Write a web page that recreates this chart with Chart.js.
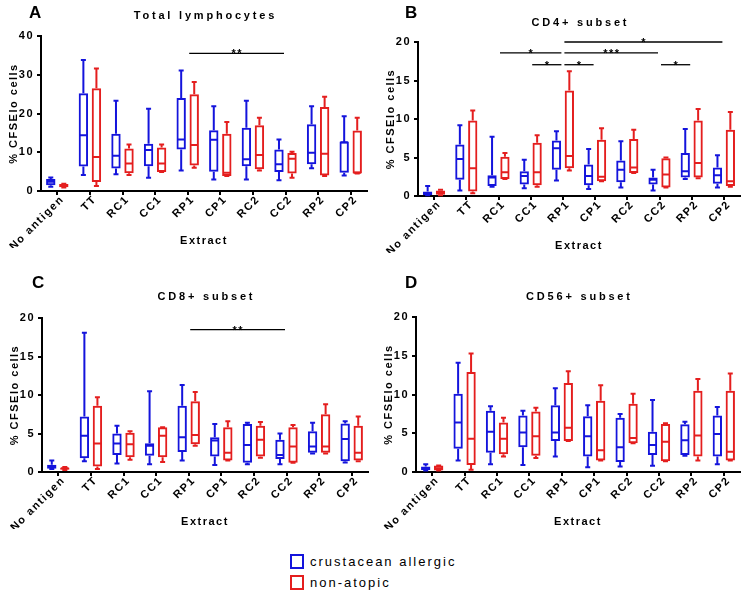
<!DOCTYPE html>
<html>
<head>
<meta charset="utf-8">
<script src="https://cdn.jsdelivr.net/npm/chart.js@4.4.1/dist/chart.umd.min.js"></script>
<style>
  html, body { margin: 0; padding: 0; background: #fff; }
  #wrap { position: relative; width: 746px; height: 594px; overflow: hidden; }
  #wrap canvas { position: absolute; }
  .legend { position: absolute; left: 290px; font: 13px "Liberation Sans", Arial, sans-serif; letter-spacing: 2px; color: #000; }
  .legend span.sw { display: inline-block; width: 10px; height: 11px; border: 2px solid; vertical-align: middle; margin-right: 6px; position: relative; top: -1px; }
</style>
</head>
<body>
<div id="wrap">
  <canvas id="cA" width="373" height="270" style="left:0;top:0"></canvas>
  <canvas id="cB" width="373" height="270" style="left:373px;top:0"></canvas>
  <canvas id="cC" width="373" height="270" style="left:0;top:270px"></canvas>
  <canvas id="cD" width="373" height="270" style="left:373px;top:270px"></canvas>
  <div class="legend" style="top:554px"><span class="sw" style="border-color:#1414dc"></span>crustacean allergic</div>
  <div class="legend" style="top:575px"><span class="sw" style="border-color:#e41e1e"></span>non-atopic</div>
</div>
<script>
// categories on the x axis
const categories = ['No antigen', 'TT', 'RC1', 'CC1', 'RP1', 'CP1', 'RC2', 'CC2', 'RP2', 'CP2'];
const groupNames = ['crustacean allergic', 'non-atopic'];

// box stats per category: [min, q1, median, q3, max]
const totalAllergic = [
  [1.1, 1.5, 2.4, 3.1, 3.5], [4.1, 6.3, 14.4, 25.2, 33.8], [4.3, 5.8, 9.1, 14.8, 23.3], [3.4, 6.4, 10.6, 12.2, 21.2],
  [5.3, 10.7, 13.3, 24.0, 31.1], [3.0, 5.0, 13.2, 15.7, 21.9], [3.0, 6.4, 8.2, 16.3, 23.3], [2.8, 4.9, 6.9, 10.7, 13.3],
  [5.9, 6.9, 9.9, 17.2, 21.9], [4.0, 4.7, 12.6, 12.8, 19.3]
];
const totalNonAtopic = [
  [0.9, 1.0, 1.4, 1.8, 1.9], [1.3, 2.3, 8.8, 26.5, 31.6], [4.1, 4.6, 7.1, 11.0, 12.0], [4.9, 4.9, 7.1, 11.2, 12.0],
  [6.0, 6.6, 11.9, 25.0, 28.1], [3.9, 3.9, 4.7, 14.8, 17.8], [5.3, 5.6, 9.3, 17.0, 18.9], [3.4, 4.5, 8.3, 9.8, 10.1],
  [3.9, 4.0, 9.6, 21.7, 24.3], [4.5, 4.5, 4.7, 15.6, 18.9]
];
const cd4Allergic = [
  [0.1, 0.1, 0.3, 0.6, 1.3], [0.7, 2.1, 4.8, 6.7, 9.2], [1.2, 1.3, 2.4, 2.7, 7.7], [1.0, 1.5, 2.6, 3.2, 4.7],
  [2.0, 3.4, 6.2, 7.2, 8.4], [0.9, 1.4, 2.6, 4.1, 6.1], [1.1, 1.8, 3.4, 4.6, 7.1], [0.7, 1.5, 2.1, 2.4, 3.4],
  [2.2, 2.4, 3.2, 5.6, 8.7], [1.1, 1.6, 2.7, 3.7, 5.3]
];
const cd4NonAtopic = [
  [0.1, 0.15, 0.5, 0.7, 0.8], [0.35, 0.6, 3.6, 9.8, 11.1], [2.2, 2.2, 3.1, 5.1, 5.6], [1.2, 1.4, 3.1, 6.9, 7.9],
  [3.3, 3.6, 5.2, 13.7, 16.2], [1.9, 1.9, 2.5, 7.3, 8.8], [3.0, 3.0, 3.7, 7.4, 8.6], [1.1, 1.1, 2.8, 4.9, 5.0],
  [2.3, 2.4, 4.3, 9.8, 11.3], [1.2, 1.3, 1.9, 8.6, 10.9]
];
const cd8Allergic = [
  [0.4, 0.43, 0.7, 0.95, 1.5], [1.4, 1.8, 4.7, 7.2, 18.1], [1.1, 2.2, 3.7, 5.0, 6.0], [1.0, 2.1, 3.4, 3.75, 10.5],
  [1.5, 2.6, 4.5, 8.6, 11.3], [0.9, 2.0, 4.1, 4.5, 6.25], [1.0, 1.2, 3.5, 6.25, 6.4], [1.0, 1.7, 2.2, 4.2, 5.0],
  [2.4, 2.5, 3.3, 5.3, 6.4], [1.25, 1.4, 4.3, 6.3, 6.6]
];
const cd8NonAtopic = [
  [0.25, 0.3, 0.5, 0.6, 0.65], [0.4, 0.7, 3.7, 8.6, 9.7], [1.6, 1.9, 3.6, 5.1, 5.3], [1.3, 1.9, 4.7, 5.8, 5.8],
  [3.4, 3.6, 4.8, 9.2, 10.4], [1.5, 1.5, 2.5, 5.8, 6.6], [1.85, 2.0, 4.2, 6.0, 6.5], [1.2, 1.2, 3.3, 5.8, 6.1],
  [2.4, 2.5, 3.3, 7.5, 8.8], [1.4, 1.5, 2.5, 6.0, 7.2]
];
const cd56Allergic = [
  [0.2, 0.25, 0.45, 0.7, 1.0], [1.5, 3.0, 6.4, 10.1, 14.1], [1.0, 2.5, 5.2, 7.9, 8.5], [0.9, 3.2, 5.1, 7.3, 7.9],
  [2.0, 4.0, 5.1, 8.6, 10.8], [0.6, 2.0, 4.6, 7.2, 8.6], [0.7, 1.3, 3.2, 7.0, 7.5], [0.8, 2.2, 3.5, 5.2, 9.3],
  [2.1, 2.2, 4.1, 6.15, 6.5], [1.0, 2.0, 4.9, 7.3, 8.4]
];
const cd56NonAtopic = [
  [0.2, 0.2, 0.5, 0.85, 0.85], [0.3, 0.9, 4.3, 12.9, 15.3], [2.0, 2.3, 4.3, 6.4, 7.0], [1.8, 2.1, 4.6, 7.8, 8.3],
  [4.0, 4.0, 5.7, 11.5, 13.0], [1.5, 1.5, 2.8, 9.2, 11.2], [3.7, 3.7, 4.4, 8.8, 10.1], [1.4, 1.4, 3.9, 6.2, 6.3],
  [1.5, 2.0, 4.7, 10.5, 12.0], [1.5, 1.5, 2.6, 10.5, 12.7]
];

// significance brackets: [from, to, y value, stars]
const sigTotal = [['RP1', 'CC2', 35.5, '**']];
const sigCD4 = [
  ['RP1', 'CP2', 20, '*'], ['RC1', 'RP1', 18.6, '*'], ['RP1', 'CC2', 18.6, '***'],
  ['CC1', 'RP1', 17.05, '*'], ['RP1', 'CP1', 17.05, '*'], ['CC2', 'RP2', 17.05, '*']
];
const sigCD8 = [['RP1', 'CC2', 18.5, '**']];
const sigCD56 = [];

const BLUE = '#1414dc';
const RED = '#e41e1e';
const FONT = '"Liberation Sans", Arial, sans-serif';

Chart.defaults.font.family = FONT;
Chart.defaults.font.size = 11;
Chart.defaults.font.weight = 'bold';
Chart.defaults.color = '#000';

// whiskers, caps and medians on top of the floating bars
const boxWhiskers = {
  id: 'boxWhiskers',
  afterDatasetsDraw(chart) {
    const ctx = chart.ctx;
    const y = chart.scales.y;
    chart.data.datasets.forEach((ds, di) => {
      const meta = chart.getDatasetMeta(di);
      meta.data.forEach((bar, i) => {
        const [lo, q1, med, q3, hi] = ds.stats[i];
        const x = bar.x, half = bar.width / 2;
        const yLo = y.getPixelForValue(lo), yQ1 = y.getPixelForValue(q1);
        const yMed = y.getPixelForValue(med), yQ3 = y.getPixelForValue(q3), yHi = y.getPixelForValue(hi);
        ctx.save();
        ctx.strokeStyle = ds.borderColor;
        ctx.lineWidth = 2;
        ctx.beginPath();
        ctx.moveTo(x, yQ3); ctx.lineTo(x, yHi);
        ctx.moveTo(x, yQ1); ctx.lineTo(x, yLo);
        ctx.moveTo(x - 2.5, yHi); ctx.lineTo(x + 2.5, yHi);
        ctx.moveTo(x - 2.5, yLo); ctx.lineTo(x + 2.5, yLo);
        ctx.moveTo(x - half + 1, yMed); ctx.lineTo(x + half - 1, yMed);
        ctx.stroke();
        ctx.restore();
      });
    });
  }
};

function makePanel(p) {
  const H = 270, xH = 57;
  const spacing = {
    id: 'spacing',
    beforeUpdate(chart) { chart.ctx.letterSpacing = '1.5px'; },
    beforeDraw(chart) { chart.ctx.letterSpacing = '1.5px'; }
  };
  const extras = {
    id: 'extras',
    afterDraw(chart) {
      const ctx = chart.ctx, xs = chart.scales.x, ys = chart.scales.y, a = chart.chartArea;
      ctx.save();
      ctx.fillStyle = '#000';
      // panel letter
      ctx.letterSpacing = '0px';
      ctx.font = 'bold 17px ' + FONT;
      ctx.textAlign = 'left';
      ctx.textBaseline = 'middle';
      ctx.fillText(p.letter, p.letterX, 13);
      // title
      ctx.letterSpacing = '2.8px';
      ctx.font = 'bold 11px ' + FONT;
      ctx.textAlign = 'center';
      ctx.fillText(p.title, (a.left + a.right) / 2 + 1.4, p.titleY);
      // significance bars
      ctx.strokeStyle = '#000';
      ctx.lineWidth = 1.3;
      ctx.letterSpacing = '1.5px';
      ctx.textBaseline = 'alphabetic';
      p.sig.forEach(([from, to, v, stars]) => {
        const x0 = xs.getPixelForValue(categories.indexOf(from)) + 1.5;
        const x1 = xs.getPixelForValue(categories.indexOf(to)) - 1.5;
        const yy = ys.getPixelForValue(v);
        ctx.beginPath();
        ctx.moveTo(x0, yy); ctx.lineTo(x1, yy);
        ctx.stroke();
        ctx.fillText(stars, (x0 + x1) / 2 + 0.75, yy + 4);
      });
      ctx.restore();
    }
  };
  const ar = p.area;
  return new Chart(document.getElementById(p.id), {
    type: 'bar',
    data: {
      labels: categories,
      datasets: [p.allergic, p.nonAtopic].map((stats, k) => ({
        label: groupNames[k],
        stats: stats,
        data: stats.map(s => [s[1], s[3]]),
        backgroundColor: 'rgba(255,255,255,0)',
        borderColor: k === 0 ? BLUE : RED,
        borderWidth: 2,
        borderSkipped: false,
        categoryPercentage: 0.8,
        barPercentage: 0.72
      }))
    },
    options: {
      responsive: false,
      animation: false,
      layout: { padding: { left: 0, top: ar.top, right: 373 - ar.right, bottom: H - ar.bottom - xH } },
      plugins: { legend: { display: false }, tooltip: { enabled: false } },
      scales: {
        x: {
          offset: true,
          grid: { display: true, drawOnChartArea: false, drawTicks: true, tickLength: 4, color: '#000', lineWidth: 2, offset: false },
          border: { display: true, color: '#000', width: 2 },
          ticks: { autoSkip: false, minRotation: 45, maxRotation: 45, padding: -2, labelOffset: 5, font: { size: 11, weight: 'bold' } },
          title: { display: true, text: 'Extract', font: { size: 11, weight: 'bold' }, padding: { top: 0, bottom: 0 } },
          afterFit(s) { s.height = xH; s.paddingLeft = 0; s.paddingRight = 0; }
        },
        y: {
          min: 0,
          max: p.yMax,
          grid: { display: true, drawOnChartArea: false, drawTicks: true, tickLength: 4, color: '#000', lineWidth: 2 },
          border: { display: true, color: '#000', width: 2 },
          ticks: { stepSize: p.yStep, padding: 3, font: { size: 11, weight: 'bold' } },
          title: { display: true, text: '% CFSElo cells', font: { size: 11, weight: 'bold' }, padding: { top: ar.left - 34, bottom: 0 } },
          afterFit(s) { s.width = ar.left; s.paddingTop = 0; s.paddingBottom = 0; }
        }
      }
    },
    plugins: [spacing, boxWhiskers, extras]
  });
}

const panels = [
  { id: 'cA', letter: 'A', title: 'Total lymphocytes', allergic: totalAllergic, nonAtopic: totalNonAtopic, yMax: 40, yStep: 10, sig: sigTotal,
    area: { left: 41, top: 36, right: 367, bottom: 191 }, titleY: 16, letterX: 29 },
  { id: 'cB', letter: 'B', title: 'CD4+ subset', allergic: cd4Allergic, nonAtopic: cd4NonAtopic, yMax: 20, yStep: 5, sig: sigCD4,
    area: { left: 45, top: 42, right: 367, bottom: 196 }, titleY: 23, letterX: 32 },
  { id: 'cC', letter: 'C', title: 'CD8+ subset', allergic: cd8Allergic, nonAtopic: cd8NonAtopic, yMax: 20, yStep: 5, sig: sigCD8,
    area: { left: 42, top: 48, right: 368, bottom: 202 }, titleY: 27, letterX: 32 },
  { id: 'cD', letter: 'D', title: 'CD56+ subset', allergic: cd56Allergic, nonAtopic: cd56NonAtopic, yMax: 20, yStep: 5, sig: sigCD56,
    area: { left: 43, top: 47, right: 367, bottom: 202 }, titleY: 27, letterX: 32 }
];

panels.forEach(makePanel);
</script>
</body>
</html>
